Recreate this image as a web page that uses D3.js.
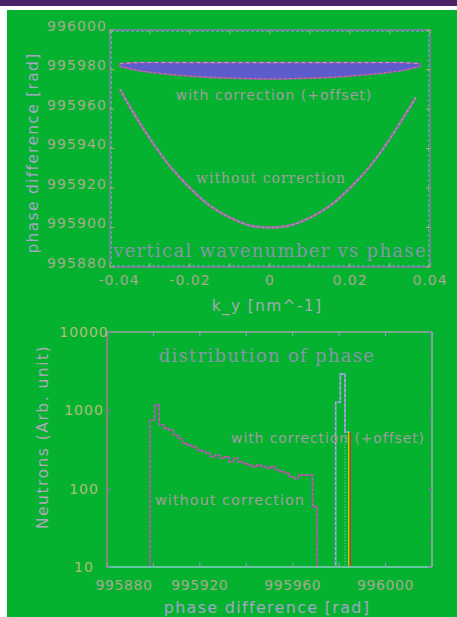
<!DOCTYPE html>
<html>
<head>
<meta charset="utf-8">
<script src="https://cdn.jsdelivr.net/npm/d3@7"></script>
<style>
  html, body { margin: 0; padding: 0; background: #ffffff; }
  svg { display: block; }
</style>
</head>
<body>
<svg id="chart" width="457" height="617"></svg>
<script>
// ---- top panel: phase difference vs vertical wavenumber ----
const kyTicks = [-0.04, -0.02, 0, 0.02, 0.04];
const kyTickLabels = ["-0.04", "-0.02", "0", "0.02", "0.04"];
const phaseTicksTop = [995880, 995900, 995920, 995940, 995960, 995980, 996000];
const phaseTickLabelsTop = ["995880", "995900", "995920", "995940", "995960", "995980", "996000"];

// uncorrected phase along k_y (parabolic)
const kyRaw = [-0.0375, -0.035, -0.03, -0.025, -0.02, -0.015, -0.01, -0.005, 0,
               0.005, 0.01, 0.015, 0.02, 0.025, 0.03, 0.035, 0.0365];
const phaseRaw = [995970, 995961, 995945, 995931, 995920, 995911, 995905, 995901, 995900,
                  995901, 995905, 995911, 995920, 995931, 995945, 995961, 995966];

// corrected phase (+offset): spread envelope along k_y
const kyBand = [-0.0375, -0.033, -0.025, -0.015, -0.005, 0.005, 0.015, 0.025, 0.033, 0.0375];
const bandHigh = [995983, 995983.5, 995983.5, 995983.5, 995983.5, 995983.5, 995983.5, 995983.5, 995983.5, 995983];
const bandLow  = [995981.5, 995979.5, 995977.5, 995976, 995975.3, 995975.3, 995976, 995977.5, 995979.5, 995981.5];

// ---- bottom panel: histogram of phase ----
const phaseTicksBottom = [995880, 995920, 995960, 996000];
const phaseTickLabelsBottom = ["995880", "995920", "995960", "996000"];
const countTicks = [10, 100, 1000, 10000];
const countTickLabels = ["10", "100", "1000", "10000"];

const rawBinStart = 995898.5, binWidth = 2;
const rawCounts = [753, 1170, 650, 589, 560, 484, 440, 379, 360, 344, 312, 300,
                   283, 256, 269, 244, 256, 221, 244, 221, 210, 200, 191, 200,
                   191, 182, 191, 173, 165, 157, 142, 135, 149, 149, 149, 59];
const corrBinStart = 995978.5;
const corrCounts = [1270, 2900, 530];

// ---- drawing ----
const svg = d3.select("#chart");
const GREEN = "#04b230";

// page background pieces
svg.append("rect").attr("x", 0).attr("y", 0).attr("width", 457).attr("height", 617).attr("fill", "#ffffff");
svg.append("rect").attr("x", 7).attr("y", 10).attr("width", 450).attr("height", 607).attr("fill", GREEN);
svg.append("rect").attr("x", 0).attr("y", 0).attr("width", 457).attr("height", 6).attr("fill", "#4a2466");

const tickFont = "'DejaVu Sans', sans-serif";
const serifFont = "'DejaVu Serif', serif";
const tickColor = "#a9a98e";
const titleColor = "#a4a6c8";
const noteColor = "#a39d9d";
const headColor = "#8696a8";

// small helper for text styling
function styleText(sel, family, size, fill, spacing) {
  return sel.attr("font-family", family).attr("font-size", size).attr("fill", fill)
    .attr("letter-spacing", spacing);
}

// ================= TOP PANEL =================
const xT = d3.scaleLinear().domain([-0.04, 0.04]).range([110, 430]);
const yT = d3.scaleLinear().domain([995880, 996000]).range([267, 30]);

const topPanel = svg.append("g");

// corrected band
const bandData = kyBand.map((k, i) => ({ k, hi: bandHigh[i], lo: bandLow[i] }));
topPanel.append("path")
  .datum(bandData)
  .attr("d", d3.area().x(d => xT(d.k)).y0(d => yT(d.lo)).y1(d => yT(d.hi)).curve(d3.curveCatmullRom))
  .attr("fill", "#5c5ccc")
  .attr("stroke", "#a05ab0")
  .attr("stroke-width", 1.6);
topPanel.append("path")
  .datum(bandData)
  .attr("d", d3.line().x(d => xT(d.k)).y(d => yT(d.hi)).curve(d3.curveCatmullRom))
  .attr("fill", "none")
  .attr("stroke", "#c8a8e0")
  .attr("stroke-width", 1)
  .attr("stroke-dasharray", "3,4");
topPanel.append("path")
  .datum(bandData)
  .attr("d", d3.line().x(d => xT(d.k)).y(d => yT(d.lo)).curve(d3.curveCatmullRom))
  .attr("fill", "none")
  .attr("stroke", "#d07890")
  .attr("stroke-width", 1)
  .attr("stroke-dasharray", "2,3");

// uncorrected parabola
const rawData = kyRaw.map((k, i) => ({ k, p: phaseRaw[i] }));
const rawLine = d3.line().x(d => xT(d.k)).y(d => yT(d.p)).curve(d3.curveCatmullRom);
topPanel.append("path").datum(rawData).attr("d", rawLine)
  .attr("fill", "none").attr("stroke", "#a86a9c").attr("stroke-width", 2.6);
topPanel.append("path").datum(rawData).attr("d", rawLine)
  .attr("fill", "none").attr("stroke", "#78b8d0").attr("stroke-width", 1.1)
  .attr("stroke-dasharray", "2,3");

// frame
topPanel.append("rect")
  .attr("x", xT(-0.04)).attr("y", yT(996000))
  .attr("width", xT(0.04) - xT(-0.04)).attr("height", yT(995880) - yT(996000))
  .attr("fill", "none").attr("stroke", "#8878b0").attr("stroke-width", 1.6);
topPanel.append("rect")
  .attr("x", xT(-0.04) + 1.5).attr("y", yT(996000) + 1.5)
  .attr("width", xT(0.04) - xT(-0.04) - 3).attr("height", yT(995880) - yT(996000) - 3)
  .attr("fill", "none").attr("stroke", "#80c0d8").attr("stroke-width", 0.8)
  .attr("stroke-dasharray", "2,3");

// inward ticks every 0.01 / 20
const kyMinor = d3.range(-4, 5).map(i => i / 100);
topPanel.selectAll(".tkx").data(kyMinor).join("g").each(function (k) {
  const g = d3.select(this);
  g.append("line").attr("x1", xT(k)).attr("x2", xT(k)).attr("y1", yT(996000)).attr("y2", yT(996000) + 4)
    .attr("stroke", "#b8b060").attr("stroke-width", 1);
  g.append("line").attr("x1", xT(k)).attr("x2", xT(k)).attr("y1", yT(995880)).attr("y2", yT(995880) - 4)
    .attr("stroke", "#b8b060").attr("stroke-width", 1);
});
topPanel.selectAll(".tky").data(phaseTicksTop).join("g").each(function (p) {
  const g = d3.select(this);
  g.append("line").attr("x1", xT(-0.04)).attr("x2", xT(-0.04) + 4).attr("y1", yT(p)).attr("y2", yT(p))
    .attr("stroke", "#b8b060").attr("stroke-width", 1);
  g.append("line").attr("x1", xT(0.04)).attr("x2", xT(0.04) - 4).attr("y1", yT(p)).attr("y2", yT(p))
    .attr("stroke", "#b8b060").attr("stroke-width", 1);
});

// tick labels
styleText(topPanel.selectAll(".lx").data(kyTicks).join("text")
  .attr("x", (d, i) => xT(d) + (i === 0 ? 9 : 0))
  .attr("y", 285)
  .attr("text-anchor", "middle"), tickFont, 14, tickColor, 1)
  .text((d, i) => kyTickLabels[i]);
styleText(topPanel.selectAll(".ly").data(phaseTicksTop).join("text")
  .attr("x", 77)
  .attr("y", d => yT(d) + 0.5)
  .attr("text-anchor", "middle"), tickFont, 14, tickColor, 1.1)
  .text((d, i) => phaseTickLabelsTop[i]);

// axis titles
styleText(topPanel.append("text").attr("x", 267).attr("y", 311).attr("text-anchor", "middle"),
  tickFont, 15.5, "#a8aab0", 1.3).text("k_y [nm^-1]");
styleText(topPanel.append("text").attr("transform", "translate(38,153) rotate(-90)").attr("text-anchor", "middle"),
  tickFont, 15.5, titleColor, 1.3).text("phase difference [rad]");

// annotations
styleText(topPanel.append("text").attr("x", 274).attr("y", 100).attr("text-anchor", "middle"),
  tickFont, 14, noteColor, 1).text("with correction (+offset)");
styleText(topPanel.append("text").attr("x", 271).attr("y", 183).attr("text-anchor", "middle"),
  serifFont, 14, noteColor, 1).text("without correction");
styleText(topPanel.append("text").attr("x", 270).attr("y", 257).attr("text-anchor", "middle"),
  serifFont, 18, headColor, 1.3).text("vertical wavenumber vs phase");

// ================= BOTTOM PANEL =================
const xB = d3.scaleLinear().domain([995880, 996020]).range([107, 432]);
const yB = d3.scaleLog().domain([10, 10000]).range([567, 332]);

const botPanel = svg.append("g");

function stepPoints(start, counts) {
  const pts = [[start, 10]];
  counts.forEach((c, i) => {
    pts.push([start + i * binWidth, c]);
    pts.push([start + (i + 1) * binWidth, c]);
  });
  pts.push([start + counts.length * binWidth, 10]);
  return pts;
}
const stepLine = d3.line().x(d => xB(d[0])).y(d => yB(d[1]));

// uncorrected histogram
botPanel.append("path").datum(stepPoints(rawBinStart, rawCounts)).attr("d", stepLine)
  .attr("fill", "none").attr("stroke", "#b0529e").attr("stroke-width", 1.6);
botPanel.append("path").datum(stepPoints(rawBinStart, rawCounts)).attr("d", stepLine)
  .attr("fill", "none").attr("stroke", "#70c0c8").attr("stroke-width", 0.8)
  .attr("stroke-dasharray", "1,4");

// corrected histogram
const corrPts = stepPoints(corrBinStart, corrCounts);
botPanel.append("path").datum(corrPts.slice(0, corrPts.length - 1)).attr("d", stepLine)
  .attr("fill", "none").attr("stroke", "#9cb4e8").attr("stroke-width", 1.6);
botPanel.append("path").datum(corrPts.slice(0, corrPts.length - 1)).attr("d", stepLine)
  .attr("fill", "none").attr("stroke", "#b04ca0").attr("stroke-width", 0.8)
  .attr("stroke-dasharray", "2,3");
const lastIdx = corrCounts.length - 1;
const lastLeft = corrBinStart + lastIdx * binWidth;
const lastRight = corrBinStart + corrCounts.length * binWidth;
botPanel.append("line")
  .attr("x1", xB(lastLeft)).attr("x2", xB(lastLeft))
  .attr("y1", yB(corrCounts[lastIdx])).attr("y2", yB(10))
  .attr("stroke", "#a0c0d0").attr("stroke-width", 1).attr("stroke-dasharray", "1,2");
botPanel.append("line")
  .attr("x1", xB(lastRight) - 0.8).attr("x2", xB(lastRight) - 0.8)
  .attr("y1", yB(corrCounts[lastIdx])).attr("y2", yB(10))
  .attr("stroke", "#f0d800").attr("stroke-width", 1.2);
botPanel.append("line")
  .attr("x1", xB(lastRight) + 0.6).attr("x2", xB(lastRight) + 0.6)
  .attr("y1", yB(corrCounts[lastIdx])).attr("y2", yB(10))
  .attr("stroke", "#e02828").attr("stroke-width", 1.2);

// frame
const fx0 = xB(995880), fx1 = xB(996020), fy0 = yB(10000), fy1 = yB(10);
botPanel.append("line").attr("x1", fx0).attr("x2", fx1).attr("y1", fy0).attr("y2", fy0)
  .attr("stroke", "#9aa4a4").attr("stroke-width", 1.5);
botPanel.append("line").attr("x1", fx1).attr("x2", fx1).attr("y1", fy0).attr("y2", fy1)
  .attr("stroke", "#a0aab4").attr("stroke-width", 1.5);
botPanel.append("line").attr("x1", fx0).attr("x2", fx1).attr("y1", fy1).attr("y2", fy1)
  .attr("stroke", "#86ccc4").attr("stroke-width", 1.6);
botPanel.append("line").attr("x1", fx0).attr("x2", fx0).attr("y1", fy0).attr("y2", fy1)
  .attr("stroke", "#ac7c84").attr("stroke-width", 1.6);

// ticks
const phaseMinor = d3.range(995880, 996021, 20);
botPanel.selectAll(".tbx").data(phaseMinor).join("g").each(function (p) {
  const g = d3.select(this);
  g.append("line").attr("x1", xB(p)).attr("x2", xB(p)).attr("y1", fy1).attr("y2", fy1 - 4)
    .attr("stroke", "#90a8c0").attr("stroke-width", 1);
  g.append("line").attr("x1", xB(p)).attr("x2", xB(p)).attr("y1", fy0).attr("y2", fy0 + 4)
    .attr("stroke", "#90a8c0").attr("stroke-width", 1);
});
const logMinor = [];
[10, 100, 1000].forEach(b => d3.range(1, 10).forEach(m => logMinor.push(b * m)));
logMinor.push(10000);
botPanel.selectAll(".tby").data(logMinor).join("g").each(function (c) {
  const major = countTicks.includes(c);
  const len = major ? 4 : 2;
  const g = d3.select(this);
  g.append("line").attr("x1", fx0).attr("x2", fx0 + len).attr("y1", yB(c)).attr("y2", yB(c))
    .attr("stroke", "#9070b0").attr("stroke-width", 1);
  g.append("line").attr("x1", fx1).attr("x2", fx1 - len).attr("y1", yB(c)).attr("y2", yB(c))
    .attr("stroke", "#9070b0").attr("stroke-width", 1);
});

// tick labels
styleText(botPanel.selectAll(".lbx").data(phaseTicksBottom).join("text")
  .attr("x", (d, i) => xB(d) + (i === 0 ? 17 : 0))
  .attr("y", 590)
  .attr("text-anchor", "middle"), tickFont, 14, tickColor, 0.6)
  .text((d, i) => phaseTickLabelsBottom[i]);
styleText(botPanel.selectAll(".lby").data(countTicks).join("text")
  .attr("x", 84)
  .attr("y", d => yB(d))
  .attr("dy", "0.36em")
  .attr("text-anchor", "middle"), tickFont, 14, "#b4bc78", 1)
  .text((d, i) => countTickLabels[i]);

// axis titles
styleText(botPanel.append("text").attr("x", 267).attr("y", 613).attr("text-anchor", "middle"),
  tickFont, 16, titleColor, 1.3).text("phase difference [rad]");
styleText(botPanel.append("text").attr("transform", "translate(48,437) rotate(-90)").attr("text-anchor", "middle"),
  tickFont, 15.5, "#b0a8b8", 1.5).text("Neutrons (Arb. unit)");

// annotations
styleText(botPanel.append("text").attr("x", 267).attr("y", 362).attr("text-anchor", "middle"),
  serifFont, 18, headColor, 1.3).text("distribution of phase");
styleText(botPanel.append("text").attr("x", 328).attr("y", 443).attr("text-anchor", "middle"),
  tickFont, 14, noteColor, 0.9).text("with correction (+offset)");
styleText(botPanel.append("text").attr("x", 230).attr("y", 505).attr("text-anchor", "middle"),
  tickFont, 14.5, noteColor, 1).text("without correction");
</script>
</body>
</html>
